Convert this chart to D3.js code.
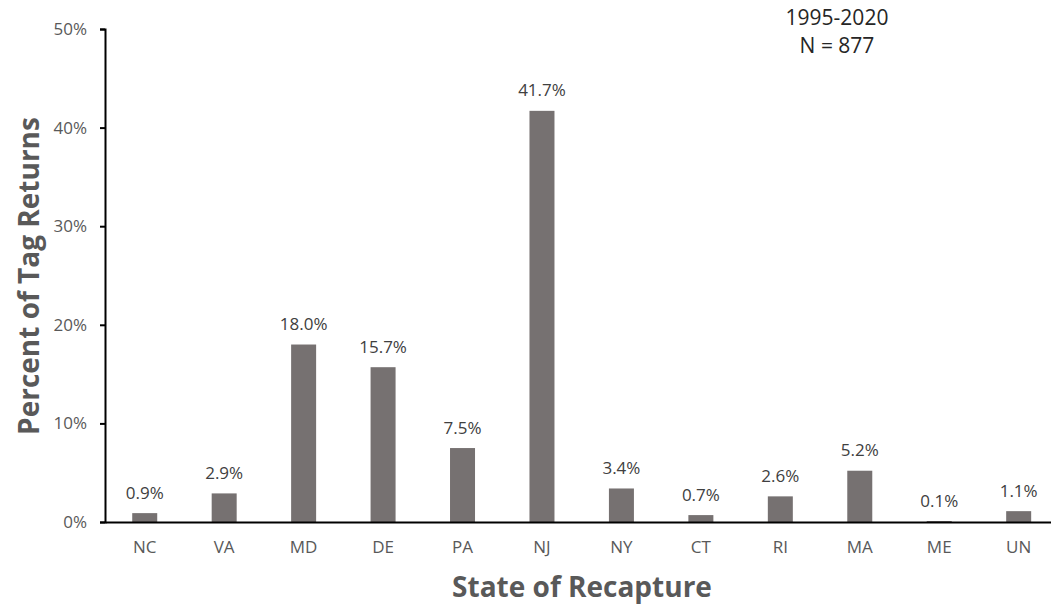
<!DOCTYPE html>
<html><head><meta charset="utf-8">
<script src="https://cdn.jsdelivr.net/npm/d3@7"></script>
<style>body{margin:0;background:#fff;} svg{display:block;font-family:"Open Sans",sans-serif;}</style>
</head><body>
<svg id="c" width="1051" height="605"></svg>
<script>
const categories = ["NC","VA","MD","DE","PA","NJ","NY","CT","RI","MA","ME","UN"];
const values = [0.9,2.9,18.0,15.7,7.5,41.7,3.4,0.7,2.6,5.2,0.1,1.1];
const yTicks = [0,10,20,30,40,50];
const svg = d3.select("#c");
const x = d3.scaleBand().domain(categories).range([105,1058.4]).paddingInner(0).paddingOuter(0);
const y = d3.scaleLinear().domain([0,50]).range([522,29]);
const bw = 25;
const gray = "#767171";
// y axis
const ya = svg.append("g").attr("transform","translate(105,0)")
  .call(d3.axisLeft(y).tickValues(yTicks).tickSize(5).tickPadding(13).tickFormat(d=>d+"%"));
ya.selectAll("path").attr("stroke","#000").attr("stroke-width",2);
ya.selectAll("line").attr("stroke","#000").attr("stroke-width",2);
ya.selectAll("text").attr("fill","#595959").style("font-size","17px").style("font-family","'Open Sans',sans-serif");
// bars
svg.selectAll("rect.bar").data(values).enter().append("rect")
  .attr("x",(d,i)=>x(categories[i])+x.bandwidth()/2-bw/2)
  .attr("width",bw)
  .attr("y",d=>y(d))
  .attr("height",d=>y(0)-y(d))
  .attr("fill",gray);
// x axis
const xa = svg.append("g").attr("transform","translate(0,522)")
  .call(d3.axisBottom(x).tickSize(0).tickPadding(19));
xa.selectAll("path").attr("stroke","#000").attr("stroke-width",2);
xa.selectAll("text").attr("fill","#595959").style("font-size","17px").style("font-family","'Open Sans',sans-serif");
// data labels
svg.selectAll("text.lbl").data(values).enter().append("text")
  .attr("x",(d,i)=>x(categories[i])+x.bandwidth()/2)
  .attr("y",d=>y(d)-14.5)
  .attr("text-anchor","middle")
  .attr("fill","#404040")
  .style("font-size","17px")
  .text(d=>d.toFixed(1)+"%");
// axis titles
svg.append("text").attr("x",582).attr("y",597).attr("text-anchor","middle")
  .attr("fill","#595959").style("font-size","28px").style("font-weight","bold")
  .text("State of Recapture");
svg.append("text").attr("transform","translate(39,276) rotate(-90)").attr("text-anchor","middle")
  .attr("fill","#595959").style("font-size","28px").style("font-weight","bold")
  .text("Percent of Tag Returns");
// annotation
svg.append("text").attr("x",837).attr("y",25).attr("text-anchor","middle")
  .attr("fill","#262626").style("font-size","21px").text("1995-2020");
svg.append("text").attr("x",837).attr("y",53).attr("text-anchor","middle")
  .attr("fill","#262626").style("font-size","21px").text("N = 877");
</script>
</body></html>
